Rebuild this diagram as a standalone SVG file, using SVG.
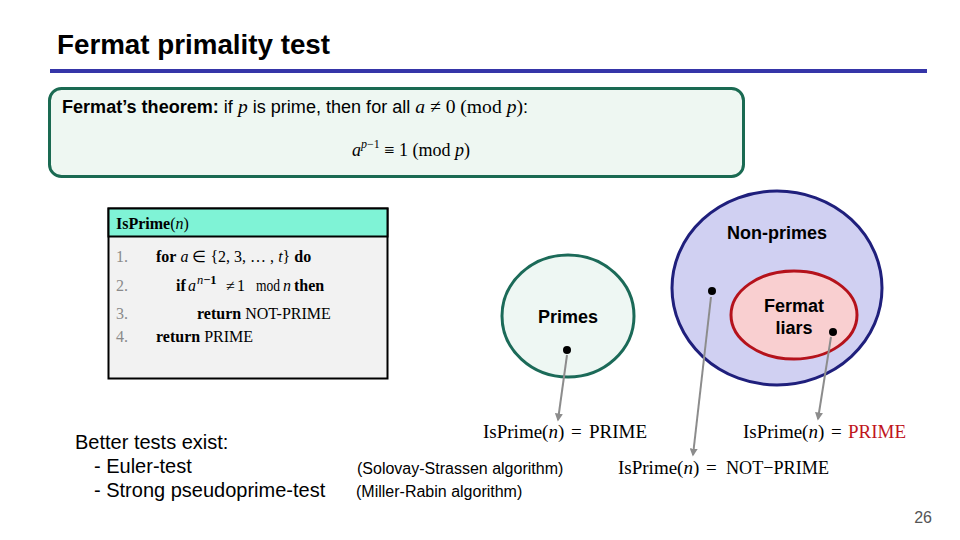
<svg xmlns="http://www.w3.org/2000/svg" width="960" height="540" viewBox="0 0 960 540">
<style>
.sans{font-family:"Liberation Sans",Arial,sans-serif}
.serif{font-family:"Liberation Serif","Times New Roman",serif}
.b{font-weight:bold}
.i{font-style:italic}
.lbl{font-family:"Liberation Sans",Arial,sans-serif;font-weight:bold;font-size:18px;text-anchor:middle;fill:#000}
.math{font-family:"Liberation Serif","Times New Roman",serif;font-size:19px;fill:#000}
.code{font-family:"Liberation Serif","Times New Roman",serif;font-size:16px;fill:#000}
.num{font-family:"Liberation Serif","Times New Roman",serif;font-size:16px;fill:#8a8a8a}
.arrow{stroke:#8c8c8c;stroke-width:2;fill:none;marker-end:url(#ah)}
.dot{fill:#000}
</style>
<defs>
<marker id="ah" viewBox="0 0 10 10" refX="8" refY="5" markerWidth="4" markerHeight="4" orient="auto">
<path d="M0,0 L10,5 L0,10 z" fill="#8c8c8c"/>
</marker>
</defs>
<rect width="960" height="540" fill="#ffffff"/>

<g id="title">
<text x="57" y="54" class="sans b" font-size="27" fill="#000" textLength="273" lengthAdjust="spacingAndGlyphs">Fermat primality test</text>
<rect x="50" y="69" width="877" height="4" fill="#3535a8"/>
</g>

<g id="theorem">
<rect x="49.500" y="88.500" width="694" height="88" rx="12" fill="#eef7f2" stroke="#1a6a52" stroke-width="3"/>
<text x="62" y="113" class="sans" font-size="17.500" fill="#000" textLength="466" lengthAdjust="spacingAndGlyphs"><tspan font-weight="bold">Fermat’s theorem:</tspan> if <tspan class="serif i" font-size="19">p</tspan> is prime, then for all <tspan class="serif i" font-size="19">a</tspan><tspan class="serif" font-size="19"> ≠ 0 (mod </tspan><tspan class="serif i" font-size="19">p</tspan><tspan class="serif" font-size="19">)</tspan>:</text>
<text x="352" y="156" class="serif" font-size="18" fill="#000"><tspan font-style="italic">a</tspan><tspan font-size="12" dy="-8" font-style="italic">p</tspan><tspan font-size="12">−1</tspan><tspan dy="8"> ≡ 1 (mod </tspan><tspan font-style="italic">p</tspan>)</text>
</g>

<g id="algorithm">
<rect x="108.500" y="208.500" width="279" height="170" fill="#f2f2f2" stroke="#000" stroke-width="2"/>
<rect x="108.500" y="208.500" width="279" height="28" fill="#7ff3d6" stroke="#000" stroke-width="2"/>
<text x="116" y="229" class="code" font-size="18.500"><tspan font-weight="bold">IsPrime</tspan>(<tspan font-style="italic">n</tspan>)</text>
<text x="116" y="262" class="num">1.</text>
<text x="116" y="291" class="num">2.</text>
<text x="116" y="319" class="num">3.</text>
<text x="116" y="342" class="num">4.</text>
<text x="156" y="262" class="code"><tspan font-weight="bold">for</tspan> <tspan font-style="italic">a</tspan> ∈ {2, 3, … , <tspan font-style="italic">t</tspan>} <tspan font-weight="bold">do</tspan></text>
<text x="176" y="291" class="code"><tspan font-weight="bold">if</tspan><tspan x="188" font-style="italic">a</tspan><tspan x="197" dy="-7" font-size="12.500" font-style="italic">n</tspan><tspan font-size="12.500" font-weight="bold">−1</tspan><tspan x="226" dy="7">≠</tspan><tspan x="237">1</tspan><tspan x="256" textLength="24" lengthAdjust="spacingAndGlyphs">mod</tspan><tspan x="283" font-style="italic">n</tspan><tspan x="294" font-weight="bold">then</tspan></text>
<text x="197" y="319" class="code"><tspan font-weight="bold">return</tspan> NOT-PRIME</text>
<text x="156" y="342" class="code"><tspan font-weight="bold">return</tspan> PRIME</text>
</g>

<g id="primes">
<ellipse cx="568" cy="316" rx="66" ry="61" fill="#eef7f3" stroke="#1b6a58" stroke-width="3"/>
<text x="568" y="323" class="lbl">Primes</text>
<circle cx="567" cy="350" r="4" class="dot"/>
</g>

<g id="nonprimes">
<ellipse cx="777" cy="288" rx="105" ry="97" fill="#d0d0f2" stroke="#1f1f7c" stroke-width="3"/>
<text x="777" y="239" class="lbl">Non-primes</text>
<circle cx="712" cy="291" r="4" class="dot"/>
</g>

<g id="liars">
<ellipse cx="794" cy="315" rx="63" ry="44" fill="#f9cfd0" stroke="#b5121b" stroke-width="3"/>
<text x="794" y="312" class="lbl">Fermat</text>
<text x="794" y="334" class="lbl">liars</text>
<circle cx="833" cy="332" r="4" class="dot"/>
</g>

<g id="connectors">
<line x1="567" y1="355" x2="558" y2="420" class="arrow"/>
<line x1="711" y1="297" x2="693" y2="455" class="arrow"/>
<line x1="831" y1="337" x2="818" y2="419" class="arrow"/>
</g>

<g id="results">
<text x="483" y="438" class="math">IsPrime(<tspan font-style="italic">n</tspan>)<tspan x="571">=</tspan><tspan x="589">PRIME</tspan></text>
<text x="743" y="438" class="math">IsPrime(<tspan font-style="italic">n</tspan>)<tspan x="831">=</tspan><tspan x="848" fill="#c0141c">PRIME</tspan></text>
<text x="618" y="474" class="math">IsPrime(<tspan font-style="italic">n</tspan>)<tspan x="706">=</tspan><tspan x="726" textLength="103" lengthAdjust="spacingAndGlyphs">NOT−PRIME</tspan></text>
</g>

<g id="better">
<text x="75" y="449" class="sans" font-size="20" fill="#000">Better tests exist:</text>
<text x="94" y="473" class="sans" font-size="20" fill="#000">- Euler-test</text>
<text x="94" y="497" class="sans" font-size="20" fill="#000">- Strong pseudoprime-test</text>
<text x="357" y="474" class="sans" font-size="16" fill="#000">(Solovay-Strassen algorithm)</text>
<text x="356" y="497" class="sans" font-size="16" fill="#000">(Miller-Rabin algorithm)</text>
</g>

<text x="932" y="523" class="sans" font-size="16" fill="#555" text-anchor="end">26</text>
</svg>
